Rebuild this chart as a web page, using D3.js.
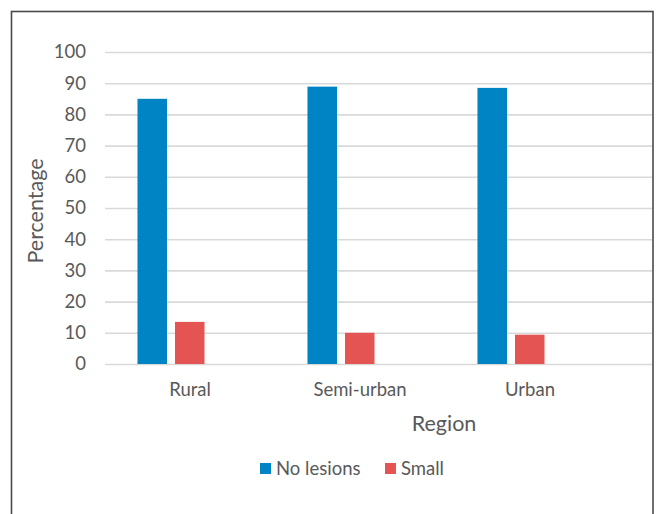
<!DOCTYPE html>
<html><head><meta charset="utf-8">
<script src="https://cdn.jsdelivr.net/npm/d3@7"></script>
<style>
html,body{margin:0;padding:0;background:#fff;}
text{font-family:Lato,"Open Sans",sans-serif;fill:#595959;}
</style></head>
<body>
<svg id="chart" width="661" height="514"></svg>
<script>
const categories = ["Rural", "Semi-urban", "Urban"];
const seriesNames = ["No lesions", "Small"];
const noLesions = [85, 88.9, 88.5];
const small = [13.5, 10, 9.4];
const yTicks = [0, 10, 20, 30, 40, 50, 60, 70, 80, 90, 100];
const colors = ["#0084C3", "#E35452"];
const xTitle = "Region";
const yTitle = "Percentage";

const svg = d3.select("#chart");
const values = [noLesions, small];

// frame
svg.append("rect").attr("x", 11.5).attr("y", 11.5).attr("width", 641.5).attr("height", 530)
  .attr("fill", "none").attr("stroke", "#4a4a4a").attr("stroke-width", 1.6);

const plotLeft = 105, plotRight = 652, bandRight = 615;
const y = d3.scaleLinear().domain([0, 100]).range([364, 52]);
const x0 = d3.scaleBand().domain(categories).range([plotLeft, bandRight]);
const bw = x0.bandwidth();
const x1 = d3.scaleBand().domain([...seriesNames, "_"]).range([bw * 0.191, bw * 0.806]).paddingInner(0.213);

// gridlines + y labels
const yAxis = d3.axisLeft(y).tickValues(yTicks).tickSize(-(plotRight - plotLeft)).tickPadding(19);
const gy = svg.append("g").attr("transform", `translate(${plotLeft},0)`).call(yAxis);
gy.select(".domain").remove();
gy.selectAll(".tick line").attr("stroke", "#d9d9d9").attr("stroke-width", 1.6);
gy.selectAll(".tick text").style("font-size", "18.5px").attr("fill", "#595959");

// bars
const groups = svg.append("g").selectAll("g").data(categories).join("g")
  .attr("transform", d => `translate(${x0(d)},0)`);
seriesNames.forEach((s, si) => {
  groups.append("rect")
    .attr("x", x1(s))
    .attr("width", x1.bandwidth())
    .attr("y", (d, i) => y(values[si][i]))
    .attr("height", (d, i) => y(0) - y(values[si][i]))
    .attr("fill", colors[si]);
});

// x axis labels
const xAxis = d3.axisBottom(x0).tickSize(0).tickPadding(19);
const gx = svg.append("g").attr("transform", `translate(0,${y(0)})`).call(xAxis);
gx.select(".domain").remove();
gx.selectAll(".tick text").style("font-size", "18.5px").attr("fill", "#595959");

// axis titles
svg.append("text").attr("x", 444).attr("y", 431).attr("text-anchor", "middle")
  .style("font-size", "21.5px").text(xTitle);
svg.append("text").attr("transform", "translate(43,211) rotate(-90)").attr("text-anchor", "middle")
  .style("font-size", "21.5px").text(yTitle);

// legend
const legendX = [260, 385];
seriesNames.forEach((s, i) => {
  svg.append("rect").attr("x", legendX[i]).attr("y", 463).attr("width", 11).attr("height", 11).attr("fill", colors[i]);
  svg.append("text").attr("x", legendX[i] + 16).attr("y", 475).style("font-size", "18.5px").text(s);
});
</script>
</body></html>
